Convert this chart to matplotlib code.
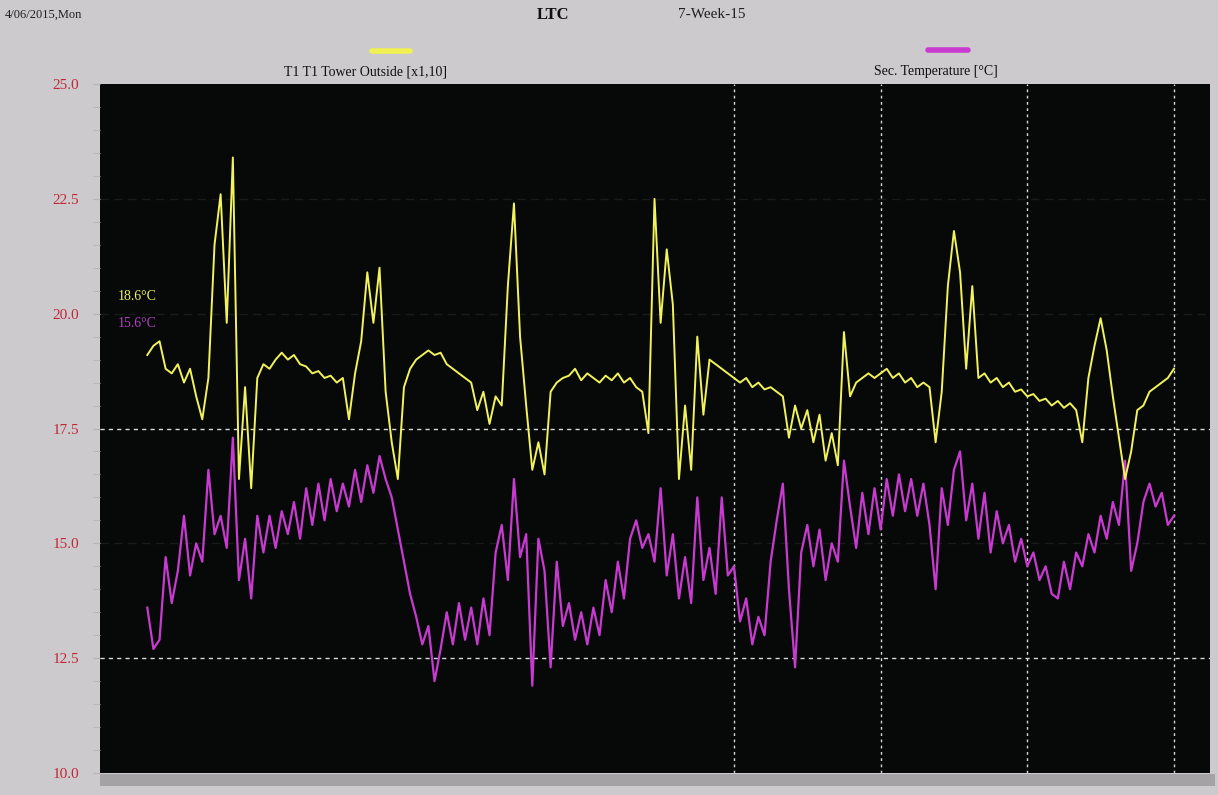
import numpy as np
import matplotlib
matplotlib.use('Agg')
import matplotlib.pyplot as plt
from matplotlib.lines import Line2D
from matplotlib.patches import Rectangle

OUTPUT = 'out.png'

# hourly samples over the week, hours 8 .. 176
hours = list(range(8, 177))

# yellow series (outside / tower temperature)
temp_yellow = [
    19.1, 19.3, 19.4, 18.8, 18.7, 18.9, 18.5, 18.8, 18.2, 17.7,
    18.6, 21.5, 22.6, 19.8, 23.4, 16.4, 18.4, 16.2, 18.6, 18.9,
    18.8, 19.0, 19.15, 19.0, 19.1, 18.9, 18.85, 18.7, 18.75, 18.6,
    18.65, 18.5, 18.6, 17.7, 18.7, 19.4, 20.9, 19.8, 21.0, 18.3,
    17.2, 16.4, 18.4, 18.8, 19.0, 19.1, 19.2, 19.1, 19.15, 18.9,
    18.8, 18.7, 18.6, 18.5, 17.9, 18.3, 17.6, 18.2, 18.0, 20.6,
    22.4, 19.5, 18.0, 16.6, 17.2, 16.5, 18.3, 18.5, 18.6, 18.65,
    18.8, 18.55, 18.7, 18.6, 18.5, 18.65, 18.55, 18.7, 18.5, 18.6,
    18.4, 18.3, 17.4, 22.5, 19.8, 21.4, 20.2, 16.4, 18.0, 16.6,
    19.5, 17.8, 19.0, 18.9, 18.8, 18.7, 18.6, 18.5, 18.6, 18.4,
    18.5, 18.35, 18.4, 18.3, 18.2, 17.3, 18.0, 17.5, 17.9, 17.2,
    17.8, 16.8, 17.4, 16.7, 19.6, 18.2, 18.5, 18.6, 18.7, 18.6,
    18.7, 18.8, 18.6, 18.7, 18.5, 18.6, 18.4, 18.5, 18.4, 17.2,
    18.3, 20.6, 21.8, 20.9, 18.8, 20.6, 18.6, 18.7, 18.5, 18.6,
    18.4, 18.5, 18.3, 18.35, 18.2, 18.25, 18.1, 18.15, 18.0, 18.1,
    17.95, 18.05, 17.9, 17.2, 18.6, 19.3, 19.9, 19.2, 18.2, 17.3,
    16.4, 17.0, 17.9, 18.0, 18.3, 18.4, 18.5, 18.6, 18.8,
]

# magenta series (secondary temperature)
temp_magenta = [
    13.6, 12.7, 12.9, 14.7, 13.7, 14.4, 15.6, 14.3, 15.0, 14.6,
    16.6, 15.2, 15.6, 14.9, 17.3, 14.2, 15.1, 13.8, 15.6, 14.8,
    15.6, 14.9, 15.7, 15.2, 15.9, 15.1, 16.2, 15.4, 16.3, 15.5,
    16.4, 15.7, 16.3, 15.8, 16.6, 15.9, 16.7, 16.1, 16.9, 16.4,
    16.0, 15.3, 14.6, 13.9, 13.4, 12.8, 13.2, 12.0, 12.7, 13.5,
    12.8, 13.7, 12.9, 13.6, 12.8, 13.8, 13.0, 14.8, 15.4, 14.2,
    16.4, 14.7, 15.2, 11.9, 15.1, 14.4, 12.3, 14.6, 13.2, 13.7,
    12.9, 13.5, 12.8, 13.6, 13.0, 14.2, 13.5, 14.6, 13.8, 15.1,
    15.5, 14.9, 15.2, 14.6, 16.2, 14.3, 15.2, 13.8, 14.7, 13.7,
    16.0, 14.2, 14.9, 13.9, 16.0, 14.3, 14.5, 13.3, 13.8, 12.8,
    13.4, 13.0, 14.6, 15.5, 16.3, 14.0, 12.3, 14.8, 15.4, 14.5,
    15.3, 14.2, 15.0, 14.6, 16.8, 15.8, 14.9, 16.1, 15.2, 16.2,
    15.3, 16.4, 15.6, 16.5, 15.7, 16.4, 15.6, 16.3, 15.4, 14.0,
    16.2, 15.4, 16.6, 17.0, 15.5, 16.3, 15.1, 16.1, 14.8, 15.7,
    15.0, 15.4, 14.6, 15.1, 14.5, 14.8, 14.2, 14.5, 13.9, 13.8,
    14.6, 14.0, 14.8, 14.5, 15.2, 14.8, 15.6, 15.1, 15.9, 15.4,
    16.8, 14.4, 15.0, 15.9, 16.3, 15.8, 16.1, 15.4, 15.6,
]

y_ticks = [10.0, 12.5, 15.0, 17.5, 20.0, 22.5, 25.0]
day_lines = [104, 128, 152, 176]

W, H = 1218, 795
BG = '#cdcacd'
FONT = 'Liberation Serif'


def fx(px):
    return px / W


def fy(py):
    return 1 - py / H


def main():
    fig = plt.figure(figsize=(W / 100, H / 100), dpi=100, facecolor=BG)
    ax = fig.add_axes([fx(100), fy(773), (1210 - 100) / W, (773 - 84) / H])
    ax.set_facecolor('#070909')

    # faint and visible horizontal guides, dotted day separators
    for v in [15.0, 20.0, 22.5]:
        ax.axhline(v, color='#191b1b', lw=1.0, ls=(0, (6, 4)), zorder=1)
    for v in [12.5, 17.5]:
        ax.axhline(v, color='#d8d8d8', lw=1.0, ls=(0, (3, 3)), zorder=1)
    for d in day_lines:
        ax.axvline(d, color='#d8d8d8', lw=1.0, ls=(0, (2, 2.5)), zorder=1)

    ax.plot(hours, temp_magenta, color='#c83ad0', lw=1.6, zorder=3)
    ax.plot(hours, temp_yellow, color='#f2f25a', lw=1.4, zorder=4)

    ax.set_xlim(0.26, 181.9)
    ax.set_ylim(10, 25)
    ax.set_xticks([])
    ax.set_yticks(y_ticks)
    ax.set_yticklabels([f'{v:.1f}' for v in y_ticks], fontfamily=FONT,
                       fontsize=11, color='#c0283a')
    ax.set_yticks(np.arange(10, 25.01, 0.5), minor=True)
    ax.tick_params(axis='y', which='both', direction='out', color='#b4b4b4',
                   length=5, pad=10)
    for s in ax.spines.values():
        s.set_visible(False)

    # current values inside the plot
    ax.text(0.016, 0.686, '18.6°C', transform=ax.transAxes,
            color='#f2f25a', fontsize=10, fontfamily=FONT)
    ax.text(0.016, 0.647, '15.6°C', transform=ax.transAxes,
            color='#b040c0', fontsize=10, fontfamily=FONT)

    # header
    fig.text(fx(5), fy(15), '4/06/2015,Mon', fontsize=9, fontfamily=FONT,
             va='center', color='#202020')
    fig.text(fx(553), fy(15), 'LTC', fontsize=12, fontweight='bold',
             fontfamily=FONT, ha='center', va='center', color='#101010')
    fig.text(fx(678), fy(15), '7-Week-15', fontsize=11, fontfamily=FONT,
             va='center', color='#202020')

    # legend entries
    fig.add_artist(Line2D([fx(372), fx(410)], [fy(51), fy(51)],
                          color='#f0f050', lw=4, solid_capstyle='round'))
    fig.text(fx(366), fy(72), 'T1 T1 Tower Outside [x1,10]', fontsize=10,
             fontfamily=FONT, ha='center', va='center', color='#101010')
    fig.add_artist(Line2D([fx(928), fx(968)], [fy(50), fy(50)],
                          color='#c83ad0', lw=4, solid_capstyle='round'))
    fig.text(fx(936), fy(72), 'Sec. Temperature [°C]', fontsize=10,
             fontfamily=FONT, ha='center', va='center', color='#101010')

    # scroll bar strip below the plot
    fig.add_artist(Rectangle((fx(100), fy(786)), (1215 - 100) / W, 12 / H,
                             transform=fig.transFigure, facecolor='#a4a2a4',
                             edgecolor='none'))

    fig.savefig(OUTPUT, dpi=100, facecolor=BG)


if __name__ == '__main__':
    main()
